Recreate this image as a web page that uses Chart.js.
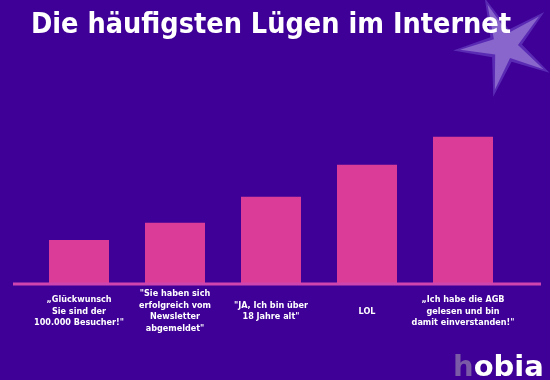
<!DOCTYPE html>
<html>
<head>
<meta charset="utf-8">
<script src="https://cdn.jsdelivr.net/npm/chart.js@4/dist/chart.umd.min.js"></script>
<style>
  html, body { margin: 0; padding: 0; background: #3e0096; }
  #wrap { width: 550px; height: 380px; position: relative; }
</style>
</head>
<body>
<div id="wrap"><canvas id="luegenChart"></canvas></div>
<script>
const titleText = "Die häufigsten Lügen im Internet";

const labels = [
    ["„Glückwunsch", "Sie sind der", "100.000 Besucher!\""],
    ["\"Sie haben sich", "erfolgreich vom", "Newsletter", "abgemeldet\""],
    ["\"JA, Ich bin über", "18 Jahre alt\""],
    ["LOL"],
    ["„Ich habe die AGB", "gelesen und bin", "damit einverstanden!\""]
];

// bar heights (no scale shown)
const values = [44, 61, 87, 119, 147];

const bgColor = "#3e0096";
const barColor = "#db3c98";
const lineColor = "#d044b0";

// background, star, long baseline and logo
const decor = {
    id: "decor",
    beforeDraw(chart) {
        const ctx = chart.ctx;
        ctx.save();
        ctx.fillStyle = bgColor;
        ctx.fillRect(0, 0, chart.width, chart.height);

        // five-point star top right
        const star = (cx, cy, rOut, rIn, rot, color) => {
            ctx.beginPath();
            for (let i = 0; i < 10; i++) {
                const r = i % 2 === 0 ? rOut : rIn;
                const a = rot + i * Math.PI / 5;
                ctx.lineTo(cx + r * Math.sin(a), cy - r * Math.cos(a));
            }
            ctx.closePath();
            ctx.fillStyle = color;
            ctx.fill();
        };
        star(505, 46, 52, 17, -0.4, "#5a2ab4");
        star(505, 46, 45, 13, -0.4, "#8866cc");
        ctx.restore();
    },
    afterDraw(chart) {
        const ctx = chart.ctx;
        const y = chart.scales.y.getPixelForValue(0);
        ctx.save();
        ctx.strokeStyle = lineColor;
        ctx.lineWidth = 3;
        ctx.beginPath();
        ctx.moveTo(13, y);
        ctx.lineTo(541, y);
        ctx.stroke();

        // logo
        ctx.font = "bold 29px 'DejaVu Sans'";
        ctx.textBaseline = "alphabetic";
        ctx.fillStyle = "#7a5aa6";
        ctx.fillText("h", 453, 376);
        const w = ctx.measureText("h").width;
        ctx.fillStyle = "#ffffff";
        ctx.fillText("obia", 453 + w, 376);
        ctx.restore();
    }
};

new Chart(document.getElementById("luegenChart"), {
    type: "bar",
    data: {
        labels: labels,
        datasets: [{
            data: values,
            backgroundColor: barColor,
            borderWidth: 0,
            barPercentage: 0.625,
            categoryPercentage: 1
        }]
    },
    options: {
        responsive: true,
        maintainAspectRatio: false,
        animation: false,
        layout: { padding: { left: 31, right: 39, top: 0, bottom: 0 } },
        plugins: {
            legend: { display: false },
            tooltip: { enabled: false },
            title: {
                display: true,
                text: titleText,
                color: "#ffffff",
                font: { family: "'DejaVu Sans'", size: 28, weight: "bold" },
                padding: { top: 9, bottom: 81 }
            }
        },
        scales: {
            x: {
                grid: { display: false },
                border: { display: false },
                ticks: {
                    color: "#ffffff",
                    maxRotation: 0,
                    autoSkip: false,
                    crossAlign: "center",
                    padding: 2,
                    font: { family: "'DejaVu Sans Condensed'", size: 9, weight: "bold", lineHeight: 1.28 }
                },
                afterFit(scale) { scale.height = 96; }
            },
            y: {
                display: false,
                min: 0,
                max: 160
            }
        }
    },
    plugins: [decor]
});
</script>
</body>
</html>
